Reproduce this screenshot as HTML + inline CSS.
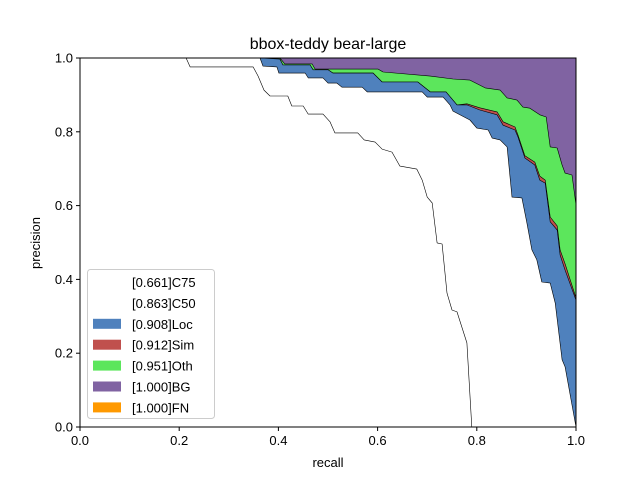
<!DOCTYPE html>
<html><head><meta charset="utf-8"><style>
body{margin:0;background:#fff}
svg{display:block;font-family:"Liberation Sans","DejaVu Sans",sans-serif}
</style></head><body>
<svg id="chart" width="640" height="480" viewBox="0 0 640 480">
<rect width="640" height="480" fill="#fff"/>
<text x="328" y="49" text-anchor="middle" font-size="16">bbox-teddy bear-large</text>
<g id="plot"></g>
<g id="axes"></g>
<g id="legend"></g>
</svg>
<script>
const c75R=[0,0.214,0.222,0.349,0.359,0.371,0.383,0.419,0.427,0.450,0.460,0.490,0.504,0.514,0.560,0.573,0.595,0.609,0.629,0.645,0.679,0.690,0.700,0.710,0.720,0.730,0.740,0.750,0.760,0.780,0.790];
const c75P=[1,1,0.976,0.976,0.951,0.913,0.897,0.897,0.870,0.870,0.848,0.848,0.827,0.797,0.797,0.778,0.772,0.753,0.745,0.707,0.699,0.669,0.623,0.607,0.499,0.496,0.363,0.317,0.312,0.228,0];
const c50R=[0,0.363,0.369,0.397,0.401,0.454,0.460,0.490,0.500,0.518,0.528,0.569,0.579,0.690,0.700,0.732,0.746,0.752,0.786,0.800,0.823,0.831,0.847,0.861,0.871,0.891,0.901,0.911,0.921,0.931,0.948,0.958,0.972,0.978,1];
const c50P=[1,1,0.978,0.976,0.959,0.959,0.946,0.946,0.932,0.932,0.921,0.921,0.908,0.908,0.894,0.894,0.873,0.856,0.832,0.810,0.805,0.783,0.778,0.759,0.623,0.621,0.553,0.480,0.453,0.393,0.390,0.336,0.182,0.163,0];
const locR=[0,0.363,0.403,0.409,0.464,0.470,0.500,0.510,0.591,0.609,0.681,0.706,0.738,0.760,0.780,0.806,0.841,0.853,0.877,0.883,0.897,0.917,0.927,0.938,0.948,0.962,0.968,0.978,1];
const locP=[1,1,0.997,0.981,0.981,0.968,0.968,0.959,0.959,0.935,0.935,0.908,0.908,0.873,0.873,0.859,0.846,0.818,0.805,0.786,0.729,0.710,0.669,0.661,0.556,0.534,0.466,0.425,0.344];
const simR=[0,0.363,0.403,0.409,0.464,0.470,0.500,0.510,0.591,0.609,0.681,0.706,0.738,0.760,0.780,0.806,0.841,0.853,0.877,0.883,0.897,0.917,0.927,0.938,0.948,0.962,0.968,0.978,1];
const simP=[1,1,0.997,0.981,0.981,0.968,0.968,0.959,0.959,0.935,0.935,0.908,0.908,0.873,0.876,0.865,0.854,0.827,0.813,0.791,0.735,0.718,0.680,0.669,0.569,0.545,0.480,0.442,0.350];
const othR=[0,0.403,0.413,0.468,0.474,0.601,0.611,0.706,0.752,0.786,0.817,0.847,0.861,0.881,0.893,0.907,0.927,0.940,0.948,0.962,0.972,0.978,0.992,1];
const othP=[1,1,0.984,0.984,0.970,0.970,0.962,0.951,0.943,0.940,0.919,0.913,0.892,0.886,0.867,0.864,0.846,0.840,0.759,0.756,0.710,0.688,0.683,0.602];
const bgR=[0,1];
const bgP=[1,1];
const xTicks=[0,0.2,0.4,0.6,0.8,1.0];
const yTicks=[0,0.2,0.4,0.6,0.8,1.0];
const legendLabels=["[0.661]C75","[0.863]C50","[0.908]Loc","[0.912]Sim","[0.951]Oth","[1.000]BG","[1.000]FN"];
const legendColors=["none","none","#4f81bd","#c0504d","#5ce65c","#8063a2","#ff9900"];

const X0=80,X1=576,Y0=427,Y1=58;
const sx=v=>X0+v*(X1-X0);
const sy=v=>Y0-v*(Y0-Y1);
const NS="http://www.w3.org/2000/svg";
function mk(tag,attrs,parent){const e=document.createElementNS(NS,tag);for(const k in attrs)e.setAttribute(k,attrs[k]);parent.appendChild(e);return e;}
const plot=document.getElementById('plot');
function curvePts(R,P){return R.map((r,i)=>sx(r).toFixed(1)+','+sy(P[i]).toFixed(1));}
function band(R,P,color,name){
  const pts=curvePts(R,P);
  pts.push(sx(R[R.length-1])+','+sy(0));pts.push(sx(0)+','+sy(0));
  const el=mk('polygon',{points:pts.join(' '),fill:color,stroke:'#000','stroke-width':0.6,'stroke-linejoin':'round'},plot);
  
  
}
band(bgR,bgP,'#8063a2','bg-area');
band(othR,othP,'#5ce65c','oth-area');
band(simR,simP,'#c0504d','sim-area');
band(locR,locP,'#4f81bd','loc-area');
band(c50R,c50P,'#ffffff','c50-area');
band(c75R,c75P,'#ffffff','c75-area');
const fn=mk('line',{x1:sx(0),y1:sy(1),x2:sx(1),y2:sy(1),stroke:'#ff9900','stroke-width':1},plot);



const axes=document.getElementById('axes');
const frame=mk('rect',{x:X0,y:Y1,width:X1-X0,height:Y0-Y1,fill:'none',stroke:'#000','stroke-width':1},axes);


xTicks.forEach(t=>{
  mk('line',{x1:sx(t),y1:Y0,x2:sx(t),y2:Y0+4,stroke:'#000'},axes);
  const tx=mk('text',{x:sx(t),y:Y0+18,'text-anchor':'middle','font-size':13},axes);
  tx.textContent=t.toFixed(1);
  
  
});
yTicks.forEach(t=>{
  mk('line',{x1:X0-4,y1:sy(t),x2:X0,y2:sy(t),stroke:'#000'},axes);
  const ty=mk('text',{x:X0-7,y:sy(t)+4.5,'text-anchor':'end','font-size':13},axes);
  ty.textContent=t.toFixed(1);
  
  
});
const xl=mk('text',{x:328,y:467,'text-anchor':'middle','font-size':13},axes);
xl.textContent='recall';


const yl=mk('text',{x:0,y:0,'text-anchor':'middle','font-size':13,transform:'translate(40,243) rotate(-90)'},axes);
yl.textContent='precision';



const lg=document.getElementById('legend');
const box=mk('rect',{x:87.5,y:269.5,width:127,height:149,rx:3,fill:'#fff','fill-opacity':0.8,stroke:'#ccc'},lg);


legendLabels.forEach((lab,i)=>{
  const cy=282+i*20.9;
  if(legendColors[i]!=='none'){
    const p=mk('rect',{x:93,y:cy-5,width:28,height:10,fill:legendColors[i]},lg);
    
    
  }
  const t=mk('text',{x:132,y:cy+5,'font-size':13},lg);
  t.textContent=lab;
  
  
});
</script>
</body></html>
